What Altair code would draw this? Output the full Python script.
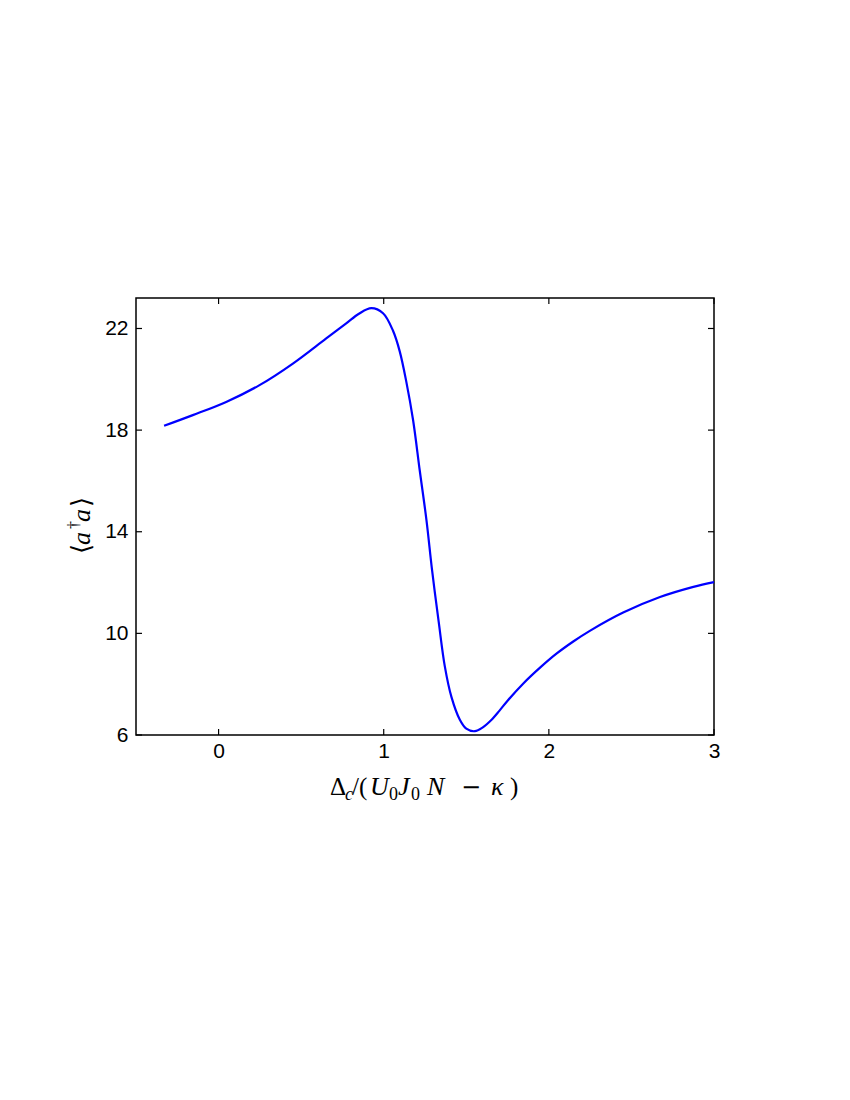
import altair as alt
import pandas as pd

x_vals = [-0.33, -0.156, 0.046, 0.248, 0.45, 0.652, 0.773, 0.85, 0.925, 0.996,
          1.057, 1.097, 1.137, 1.178, 1.218, 1.259, 1.293, 1.333, 1.370, 1.410,
          1.461, 1.50, 1.552, 1.60, 1.65, 1.70, 1.75, 1.844, 1.95, 2.046,
          2.15, 2.248, 2.45, 2.673, 2.875, 3.0]
y_vals = [18.17, 18.59, 19.11, 19.77, 20.62, 21.61, 22.2, 22.58, 22.8, 22.6,
          21.9, 21.1, 19.9, 18.39, 16.42, 14.45, 12.48, 10.45, 8.7, 7.5,
          6.6, 6.25, 6.15, 6.3, 6.58, 6.95, 7.35, 8.02, 8.67, 9.2,
          9.69, 10.1, 10.82, 11.43, 11.83, 12.02]
x_ticks = [0, 1, 2, 3]
y_ticks = [6, 10, 14, 18, 22]

W, H = 578, 437
df = pd.DataFrame({"x": x_vals, "y": y_vals})
xt = pd.DataFrame({"t": x_ticks})
yt = pd.DataFrame({"t": y_ticks})

xscale = alt.Scale(domain=[-0.5, 3], nice=False, zero=False)
yscale = alt.Scale(domain=[6, 23.2], nice=False, zero=False)

lab_font = "Liberation Sans"
xaxis = alt.Axis(values=x_ticks, format="d", ticks=False, domain=False, grid=False, title=None,
                 labelFont=lab_font, labelFontSize=21, labelColor="black", labelPadding=5,
                 labelFlush=False, labelOverlap=False)
yaxis = alt.Axis(values=y_ticks, format="d", ticks=False, domain=False, grid=False, title=None,
                 labelFont=lab_font, labelFontSize=21, labelColor="black", labelPadding=8,
                 labelFlush=False, labelOverlap=False)

line = alt.Chart(df).mark_line(color="#0000ff", strokeWidth=2.2, interpolate="catmull-rom").encode(
    x=alt.X("x:Q", scale=xscale, axis=xaxis),
    y=alt.Y("y:Q", scale=yscale, axis=yaxis),
)

tl = 6
xb = alt.Chart(xt).mark_rule(color="black", strokeWidth=1.2).encode(
    x=alt.X("t:Q", scale=xscale), y=alt.value(H), y2=alt.value(H - tl))
xtop = alt.Chart(xt).mark_rule(color="black", strokeWidth=1.2).encode(
    x=alt.X("t:Q", scale=xscale), y=alt.value(0), y2=alt.value(tl))
yl = alt.Chart(yt).mark_rule(color="black", strokeWidth=1.2).encode(
    y=alt.Y("t:Q", scale=yscale), x=alt.value(0), x2=alt.value(tl))
yr = alt.Chart(yt).mark_rule(color="black", strokeWidth=1.2).encode(
    y=alt.Y("t:Q", scale=yscale), x=alt.value(W), x2=alt.value(W - tl))

serif = "Liberation Serif"
base_y = 497
# (text, x, dy, size, style, font)
pieces = [
    ("\u0394", 194, 0, 25, "normal", serif),
    ("c", 209, 5, 18, "italic", serif),
    ("/(", 216, 0, 25, "normal", serif),
    ("U", 234, 0, 26, "italic", serif),
    ("0", 253, 5, 18, "normal", serif),
    ("J", 262, 0, 26, "italic", serif),
    ("0", 275, 5, 18, "normal", serif),
    ("N", 291, 0, 26, "italic", serif),
    ("\u2212", 325, 0, 24, "normal", "DejaVu Sans"),
    ("\u03ba", 355, 0, 26, "italic", serif),
    (")", 374, 0, 25, "normal", serif),
]
title_layers = []
for txt, px, dy, fs, st, fnt in pieces:
    title_layers.append(
        alt.Chart(pd.DataFrame({"s": [txt]})).mark_text(
            align="left", baseline="alphabetic", font=fnt, fontSize=fs,
            fontStyle=st, color="black"
        ).encode(text="s:N", x=alt.value(px), y=alt.value(base_y + dy))
    )

# y title pieces, rotated (reads bottom to top)
ybase = -46
ypieces = [
    ("\u27e8", 256, 0, 26, "normal", "DejaVu Serif"),
    ("a", 247, 0, 26, "italic", serif),
    ("\u2020", 231, -11, 16, "normal", serif),
    ("a", 224, 0, 26, "italic", serif),
    ("\u27e9", 209, 0, 26, "normal", "DejaVu Serif"),
]
ytitle_layers = []
for txt, py, dx, fs, st, fnt in ypieces:
    ytitle_layers.append(
        alt.Chart(pd.DataFrame({"s": [txt]})).mark_text(
            align="left", baseline="alphabetic", font=fnt, fontSize=fs, angle=270,
            fontStyle=st, color="black"
        ).encode(text="s:N", x=alt.value(ybase + dx), y=alt.value(py))
    )

chart = alt.layer(line, xb, xtop, yl, yr, *title_layers, *ytitle_layers).properties(
    width=W, height=H,
    autosize=alt.AutoSizeParams(type="none"),
    padding={"left": 128, "top": 290, "right": 20, "bottom": 300},
).configure_view(stroke="black", strokeWidth=1.5)

chart.save("out.html", embed_options={"renderer": "svg", "actions": False})
